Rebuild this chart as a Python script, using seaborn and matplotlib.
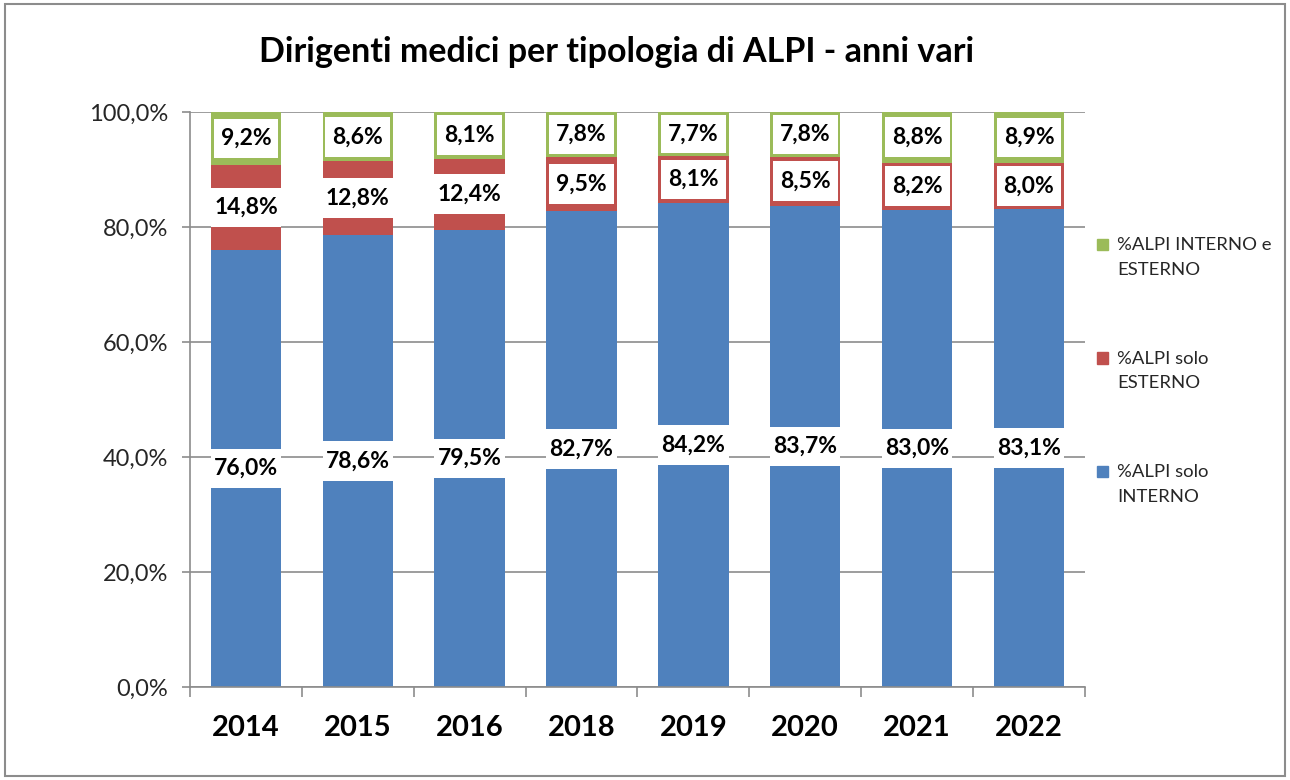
import numpy as np
import pandas as pd
import seaborn as sns
import matplotlib.pyplot as plt
from matplotlib.patches import Rectangle
from matplotlib.legend_handler import HandlerPatch
from matplotlib.ticker import FuncFormatter

years = ['2014', '2015', '2016', '2018', '2019', '2020', '2021', '2022']
solo_interno = [76.0, 78.6, 79.5, 82.7, 84.2, 83.7, 83.0, 83.1]
solo_esterno = [14.8, 12.8, 12.4, 9.5, 8.1, 8.5, 8.2, 8.0]
interno_esterno = [9.2, 8.6, 8.1, 7.8, 7.7, 7.8, 8.8, 8.9]
series_names = ['%ALPI solo\nINTERNO', '%ALPI solo\nESTERNO', '%ALPI INTERNO e\nESTERNO']

colors = ['#4F81BD', '#C0504D', '#9BBB59']
bar_w = 0.63

def pct(v):
  return '{:.1f}%'.format(v).replace('.', ',')

def top_square(legend, orig_handle, xdescent, ydescent, width, height, fontsize):
  s = 0.62 * fontsize
  return Rectangle((-xdescent, -ydescent + height - s + 0.1 * fontsize), s, s)

df = pd.DataFrame({'year': years, 'a': solo_interno, 'b': solo_esterno, 'c': interno_esterno})
df['top_b'] = df['a'] + df['b']
df['top_c'] = df['top_b'] + df['c']

sns.set_theme(style='white')
plt.rcParams['font.family'] = ['Lato', 'DejaVu Sans']

fig = plt.figure(figsize=(12.9, 7.8), dpi=100)
ax = fig.add_axes([0.1473, 0.1192, 0.6937, 0.7372])

# stacked bars: draw cumulative totals from the top layer down
for col, c in zip(['top_c', 'top_b', 'a'], colors[::-1]):
  sns.barplot(data=df, x='year', y=col, color=c, width=bar_w, saturation=1, ax=ax,
              linewidth=0, edgecolor='none', zorder=2)

# white label boxes + values
layers = [solo_interno, solo_esterno, interno_esterno]
bottoms = [np.zeros(len(years)), np.array(solo_interno), np.array(solo_interno) + np.array(solo_esterno)]
xs = np.arange(len(years))
for vals, bot in zip(layers, bottoms):
  vals = np.array(vals)
  centers = bot + vals / 2
  box_h = np.minimum(6.9, vals - 1.0)
  widths = np.where(vals < 10, bar_w * 0.92, bar_w)
  ax.bar(xs, box_h, bottom=centers - box_h / 2, width=widths, color='white', edgecolor='none', zorder=3)
  for x, y, v in zip(xs, centers, vals):
    ax.text(x, y, pct(v), ha='center', va='center', fontsize=16.5, fontweight='bold', color='black', zorder=4)

ax.set_xlim(-0.5, len(years) - 0.5)
ax.set_ylim(0, 100)
ax.set_yticks(np.arange(0, 101, 20))
ax.yaxis.set_major_formatter(FuncFormatter(lambda v, _: pct(v)))
ax.grid(axis='y', color='#8c8c8c', linewidth=1.2, zorder=0)
ax.set_axisbelow(True)
ax.set_xlabel('')
ax.set_ylabel('')
for s in ['top', 'right']:
  ax.spines[s].set_visible(False)
for s in ['left', 'bottom']:
  ax.spines[s].set_color('#8c8c8c')
  ax.spines[s].set_linewidth(1.2)
ax.tick_params(axis='y', left=True, length=6, width=1.2, color='#8c8c8c', labelsize=17, labelcolor='#262626', pad=10)
ax.set_xticks(xs)
ax.set_xticklabels(years, fontsize=21, fontweight='bold', color='black')
ax.set_xticks(np.arange(-0.5, len(years), 1), minor=True)
ax.tick_params(axis='x', which='major', length=0, pad=20)
ax.tick_params(axis='x', which='minor', bottom=True, length=7, width=1.2, color='#8c8c8c')

fig.suptitle('Dirigenti medici per tipologia di ALPI - anni vari', x=0.478, y=0.933, va='center',
             fontsize=24.5, fontweight='bold', color='black')

handles = [Rectangle((0, 0), 1, 1, color=c) for c in colors][::-1]
leg = ax.legend(handles, series_names[::-1], loc='upper left', bbox_to_anchor=(1.005, 0.795),
                frameon=False, fontsize=13.3, labelspacing=3.95, handlelength=0.75, handleheight=2.6,
                handletextpad=0.35, borderaxespad=0,
                handler_map={Rectangle: HandlerPatch(patch_func=top_square)})
for t in leg.get_texts():
  t.set_linespacing(1.65)

fig.patches.append(Rectangle((0.004, 0.005), 0.992, 0.99, transform=fig.transFigure,
                             fill=False, edgecolor='#8c8c8c', linewidth=1.5))

fig.savefig('out.png', dpi=100)
